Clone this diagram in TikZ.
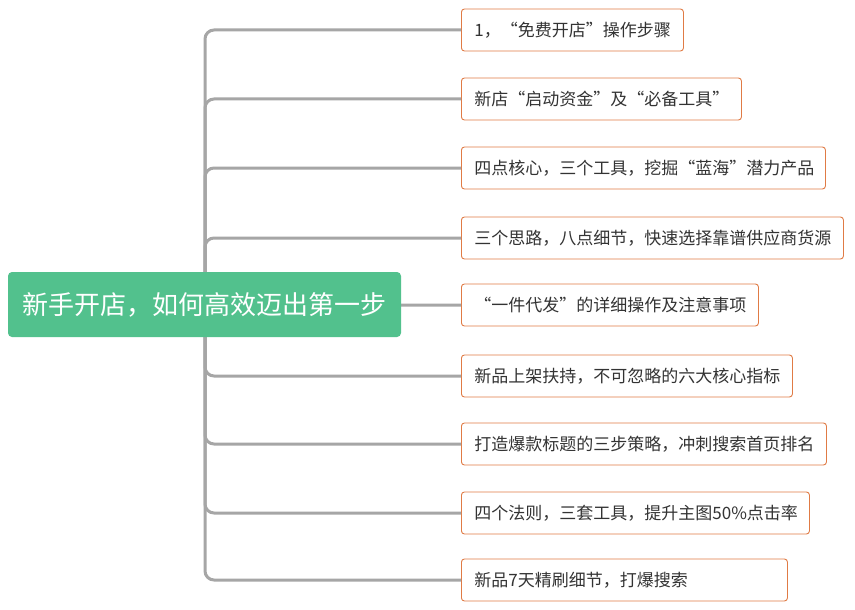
\documentclass[tikz,border=0pt]{standalone}
\usepackage{fontspec}
\setmainfont{Noto Sans CJK SC}
\definecolor{rootg}{HTML}{52C18D}
\definecolor{edgeo}{HTML}{E07B45}
\definecolor{lineg}{HTML}{A6A6A6}
\definecolor{txt}{HTML}{333333}
\begin{document}
\begin{tikzpicture}[x=1pt,y=-1pt,
  leaf/.style={draw=edgeo,line width=0.9pt,rounded corners=3pt,fill=white,anchor=west,minimum height=42pt,inner xsep=13pt,align=left,font=\fontsize{17}{19}\selectfont,text=txt},
  conn/.style={draw=lineg,line width=3pt,rounded corners=9pt}]
\fill[white] (0,0) rectangle (855,610);
\coordinate (t) at (205,305);
\foreach \n/\y/\w/\s in {
 a/30/222/{1，“免费开店”操作步骤},
 b/99/280/{新店“启动资金”及“必备工具”},
 c/168/364/{四点核心，三个工具，挖掘“蓝海”潜力产品},
 d/238/382/{三个思路，八点细节，快速选择靠谱供应商货源},
 e/305/297/{“一件代发”的详细操作及注意事项},
 f/376/331/{新品上架扶持，不可忽略的六大核心指标},
 g/444/365/{打造爆款标题的三步策略，冲刺搜索首页排名},
 h/513/348/{四个法则，三套工具，提升主图50\%点击率},
 i/580/326/{新品7天精刷细节，打爆搜索}}
{
 \node[leaf,text width=\w pt-26pt] (\n) at (461,\y) {\s};
 \draw[conn] (t) |- (\n.west);
}
\node[fill=rootg,rounded corners=4pt,minimum width=393pt,minimum height=65pt,text=white,font=\fontsize{26}{28}\selectfont] (root) at (204.5,304.5) {新手开店，如何高效迈出第一步};
\end{tikzpicture}
\end{document}
